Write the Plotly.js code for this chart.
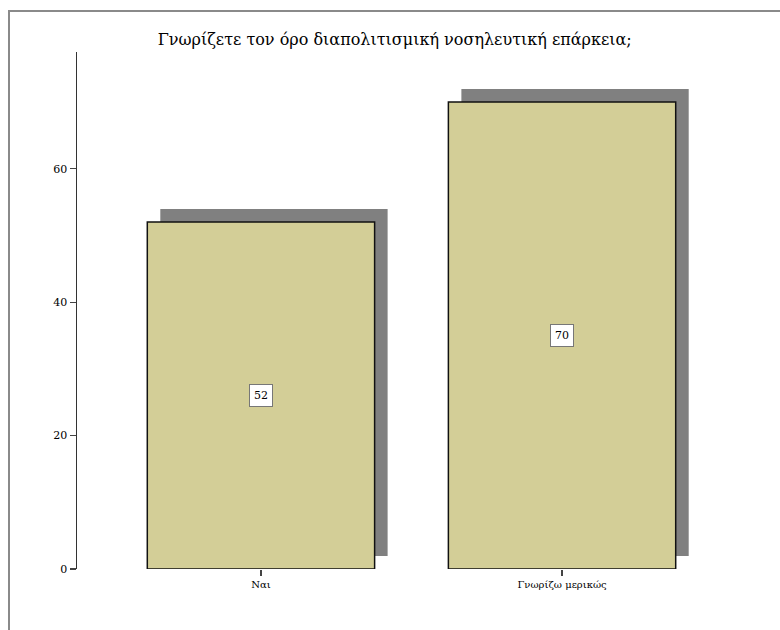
<!DOCTYPE html>
<html>
<head>
<meta charset="utf-8">
<script src="https://cdn.plot.ly/plotly-3.0.1.min.js"></script>
<style>
html,body{margin:0;padding:0;background:#fff;}
#wrap{position:relative;width:780px;height:630px;overflow:hidden;}
#frame{position:absolute;left:8px;top:10px;width:780px;height:630px;border-left:2px solid #8a8a8a;border-top:2px solid #8a8a8a;pointer-events:none;}
#chart{position:absolute;left:0;top:0;width:780px;height:630px;}
</style>
</head>
<body>
<div id="wrap">
<div id="chart"></div>
<div id="frame"></div>
</div>
<script>
const titleText = "Γνωρίζετε τον όρο διαπολιτισμική νοσηλευτική επάρκεια;";
const categories = ["Ναι", "Γνωρίζω μερικώς"];
const counts = [52, 70];
const yTicks = [0, 20, 40, 60];

const xRange = [-0.611, 1.611];
const yRange = [0, 77.5];
const plotW = 780 - 77 - 34;
const plotH = 630 - 52 - 61;
const shadowPx = 13;
const dx = shadowPx / plotW * (xRange[1] - xRange[0]);
const dy = shadowPx / plotH * (yRange[1] - yRange[0]);

const font = "'DejaVu Serif', 'Liberation Serif', serif";

// shadow on the primary (hidden) axes, shifted up-right
const shadow = {
  type: 'bar',
  x: [0, 1],
  y: counts,
  width: 0.755,
  xaxis: 'x',
  yaxis: 'y',
  marker: {color: '#808080', line: {width: 0}},
  hoverinfo: 'skip',
  showlegend: false
};
// main bars on the overlaying (visible) axes, drawn on top
const bars = {
  type: 'bar',
  x: [0, 1],
  y: counts,
  width: 0.755,
  xaxis: 'x2',
  yaxis: 'y2',
  marker: {color: '#d3ce97', line: {color: '#111', width: 1.5}},
  showlegend: false
};

const annotations = counts.map((v, i) => ({
  x: i, y: v / 2, xref: 'x2', yref: 'y2',
  text: String(v), showarrow: false,
  font: {family: font, size: 11, color: '#000'},
  bgcolor: '#ffffff', bordercolor: '#777', borderwidth: 1, borderpad: 4
}));

const layout = {
  width: 780, height: 630,
  margin: {l: 77, r: 34, t: 52, b: 61},
  paper_bgcolor: 'rgba(0,0,0,0)', plot_bgcolor: 'rgba(0,0,0,0)',
  title: {text: titleText, font: {family: font, size: 16, color: '#000'}, x: 0.506, xanchor: 'center', y: 0.937, yanchor: 'middle'},
  barmode: 'overlay',
  xaxis: {range: [xRange[0] - dx, xRange[1] - dx], visible: false, fixedrange: true},
  yaxis: {range: [yRange[0] - dy, yRange[1] - dy], visible: false, fixedrange: true},
  xaxis2: {
    range: xRange, tickvals: [0, 1], ticktext: categories, overlaying: 'x',
    showline: false, showgrid: false, zeroline: false,
    ticks: 'outside', ticklen: 6, tickwidth: 1.2, tickcolor: '#444',
    tickfont: {family: font, size: 10, color: '#000'}, fixedrange: true
  },
  yaxis2: {
    range: yRange, tickvals: yTicks, overlaying: 'y', side: 'left',
    showline: true, linecolor: '#333', linewidth: 1.5,
    showgrid: false, zeroline: false,
    ticks: 'outside', ticklen: 6, tickwidth: 1.2, tickcolor: '#444',
    tickfont: {family: font, size: 11, color: '#000'}, fixedrange: true
  },
  annotations: annotations
};

Plotly.newPlot('chart', [shadow, bars], layout, {displayModeBar: false, staticPlot: true});
</script>
</body>
</html>
